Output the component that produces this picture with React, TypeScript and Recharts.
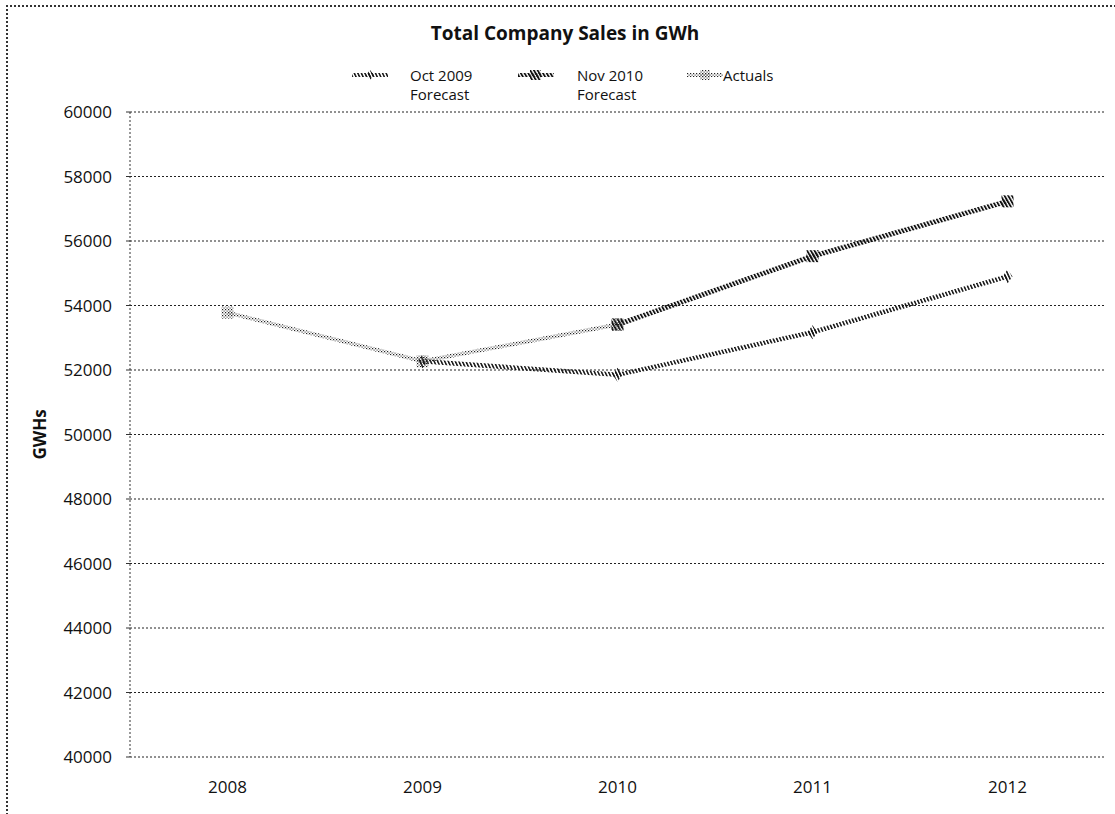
import React from 'react';
import { LineChart, Line, XAxis, YAxis, CartesianGrid } from 'recharts';

// Categories and series (GWh)
const years = ['2008', '2009', '2010', '2011', '2012'];
const oct2009Forecast: (number | null)[] = [null, 52270, 51850, 53170, 54900];
const nov2010Forecast: (number | null)[] = [null, null, 53410, 55530, 57230];
const actuals: (number | null)[] = [53780, 52270, 53410, null, null];
const yTicks = [40000, 42000, 44000, 46000, 48000, 50000, 52000, 54000, 56000, 58000, 60000];

const data = years.map((year, i) => ({
  year,
  oct: oct2009Forecast[i],
  nov: nov2010Forecast[i],
  act: actuals[i],
}));

const FONT = '"Open Sans", "Noto Sans", sans-serif';

const SquareDot = (size: number, fill: string) => (props: any) => {
  const { cx, cy, value, index } = props;
  if (value == null || cx == null || cy == null) return <g key={`s-${index}`} />;
  return <rect key={`s-${index}`} x={cx - size / 2} y={cy - size / 2} width={size} height={size} fill={fill} />;
};

const DiamondDot = (rx: number, ry: number, fill: string) => (props: any) => {
  const { cx, cy, value, index } = props;
  if (value == null || cx == null || cy == null) return <g key={`d-${index}`} />;
  return (
    <path
      key={`d-${index}`}
      d={`M${cx},${cy - ry} L${cx + rx},${cy} L${cx},${cy + ry} L${cx - rx},${cy} Z`}
      fill={fill}
    />
  );
};

const legendItems = [
  { key: 'oct', lines: ['Oct 2009', 'Forecast'], stroke: 'url(#hatchOct)', swatchX: 352, textX: 410 },
  { key: 'nov', lines: ['Nov 2010', 'Forecast'], stroke: 'url(#hatchNov)', swatchX: 518, textX: 577 },
  { key: 'act', lines: ['Actuals'], stroke: 'url(#dotsAct)', swatchX: 687, textX: 723 },
];

export default function App() {
  return (
    <div
      style={{
        position: 'fixed',
        left: 0,
        top: 0,
        width: 1115,
        height: 814,
        overflow: 'hidden',
        background: '#fff',
        fontFamily: FONT,
      }}
    >
      {/* chart area frame */}
      <div
        style={{
          position: 'absolute',
          left: 6,
          top: 5,
          width: 1200,
          height: 900,
          borderLeft: '2px dotted #333',
          borderTop: '2px dotted #333',
        }}
      />
      <div
        style={{
          position: 'absolute',
          left: 0,
          top: 20,
          width: 1130,
          textAlign: 'center',
          fontWeight: 700,
          fontSize: 19,
          color: '#111',
        }}
      >
        Total Company Sales in GWh
      </div>

      {/* legend */}
      {legendItems.map((it) => (
        <React.Fragment key={it.key}>
          <svg
            style={{ position: 'absolute', left: it.swatchX, top: 70 }}
            width={36}
            height={10}
          >
            <line x1={0} y1={5} x2={36} y2={5} stroke={it.stroke} strokeWidth={4} />
            {it.key === 'nov' ? <rect x={12} y={0} width={11} height={10} fill={it.stroke} /> : null}
            {it.key === 'oct' ? (
              <path d="M18,0 L22,5 L18,10 L14,5 Z" fill={it.stroke} />
            ) : null}
            {it.key === 'act' ? <rect x={13} y={0} width={10} height={10} fill={it.stroke} /> : null}
          </svg>
          <div
            style={{
              position: 'absolute',
              left: it.textX,
              top: 66,
              fontSize: 15,
              lineHeight: '19px',
              color: '#111',
            }}
          >
            {it.lines.map((l) => (
              <div key={l}>{l}</div>
            ))}
          </div>
        </React.Fragment>
      ))}

      <div style={{ position: 'absolute', left: 0, top: 0 }}>
        <LineChart
          width={1115}
          height={814}
          data={data}
          margin={{ top: 112, right: 10, bottom: 27, left: 0 }}
        >
          <defs>
            <pattern
              id="hatchOct"
              patternUnits="userSpaceOnUse"
              width={3.2}
              height={3.2}
              patternTransform="rotate(-25)"
            >
              <rect x={0} y={0} width={1.5} height={3.2} fill="#111" />
            </pattern>
            <pattern
              id="hatchNov"
              patternUnits="userSpaceOnUse"
              width={3.2}
              height={3.2}
              patternTransform="rotate(-30)"
            >
              <rect x={0} y={0} width={1.8} height={3.2} fill="#111" />
            </pattern>
            <pattern id="dotsAct" patternUnits="userSpaceOnUse" width={3} height={3}>
              <rect x={0} y={0} width={1.2} height={1.2} fill="#222" />
              <rect x={1.5} y={1.5} width={1.2} height={1.2} fill="#555" />
            </pattern>
          </defs>
          <CartesianGrid
            vertical={false}
            stroke="#222"
            strokeDasharray="2 2"
            strokeWidth={1}
          />
          <XAxis
            dataKey="year"
            axisLine={false}
            tickLine={false}
            padding={{ left: 97.5, right: 97.5 }}
            tickMargin={18}
            tick={{ fill: '#111', fontSize: 17, fontFamily: FONT }}
          />
          <YAxis
            width={130}
            domain={[40000, 60000]}
            ticks={yTicks}
            interval={0}
            axisLine={{ stroke: '#333', strokeDasharray: '2 2' }}
            tickLine={{ stroke: '#333' }}
            tickSize={4}
            tickMargin={14}
            tick={{ fill: '#111', fontSize: 17, fontFamily: FONT }}
            label={(props: any) => {
              const vb = props.viewBox || {};
              const cy = (vb.y ?? 0) + (vb.height ?? 0) / 2;
              return (
                <text
                  x={39}
                  y={cy}
                  transform={`rotate(-90, 39, ${cy})`}
                  textAnchor="middle"
                  dominantBaseline="central"
                  fontWeight={700}
                  fontSize={17}
                  fontFamily={FONT}
                  fill="#111"
                >
                  GWHs
                </text>
              );
            }}
          />
          <Line
            dataKey="oct"
            stroke="url(#hatchOct)"
            strokeWidth={4.5}
            dot={DiamondDot(5, 7, 'url(#hatchOct)')}
            activeDot={false}
            connectNulls={false}
            isAnimationActive={false}
          />
          <Line
            dataKey="nov"
            stroke="url(#hatchNov)"
            strokeWidth={5}
            dot={SquareDot(12, 'url(#hatchNov)')}
            activeDot={false}
            connectNulls={false}
            isAnimationActive={false}
          />
          <Line
            dataKey="act"
            stroke="url(#dotsAct)"
            strokeWidth={4}
            dot={SquareDot(12, 'url(#dotsAct)')}
            activeDot={false}
            connectNulls={false}
            isAnimationActive={false}
          />
        </LineChart>
      </div>
    </div>
  );
}
